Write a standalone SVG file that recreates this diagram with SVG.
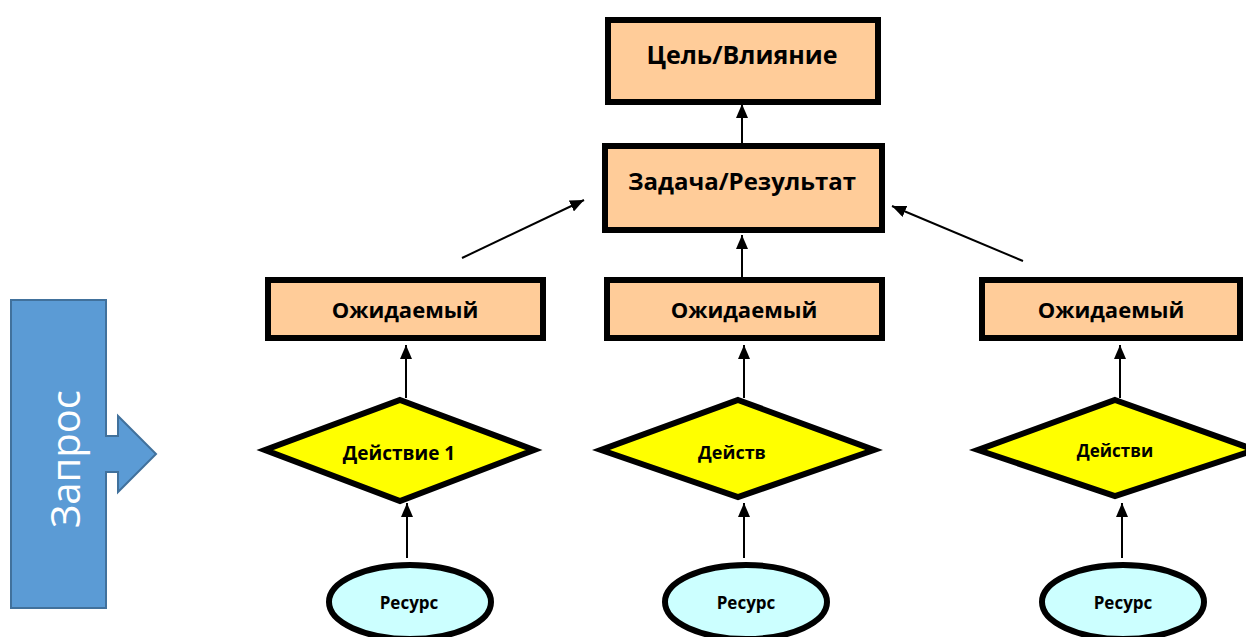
<svg xmlns="http://www.w3.org/2000/svg" width="1246" height="637" viewBox="0 0 1246 637">
<defs>
<style>
.box{fill:#FFCC99;stroke:#000;stroke-width:6}
.dia{fill:#FFFF00;stroke:#000;stroke-width:6}
.res{fill:#CCFFFF;stroke:#000;stroke-width:6}
.t{font-family:"Open Sans","Noto Sans",sans-serif;font-weight:bold;fill:#000;text-anchor:middle;dominant-baseline:central}
.c{stroke:#000;stroke-width:2;fill:none;marker-end:url(#ah)}
</style>
<marker id="ah" viewBox="0 0 14 12" refX="14" refY="6" markerWidth="14" markerHeight="12" markerUnits="userSpaceOnUse" orient="auto">
<path d="M0,0 L14,6 L0,12 Z" fill="#000"/>
</marker>
</defs>
<rect width="1246" height="637" fill="#fff"/>
<g id="zapros">
<path d="M11,300 H106 V436 H118 V416 L156,454 L118,492 V472 H106 V608 H11 Z" fill="#5B9BD5" stroke="#41719C" stroke-width="2"/>
<text x="0" y="0" transform="translate(64,459) rotate(-90)" font-family="'Open Sans','Noto Sans',sans-serif" font-size="40" fill="#fff" text-anchor="middle" dominant-baseline="central">Запрос</text>
</g>
<g id="connectors">
<line class="c" x1="742" y1="143" x2="742" y2="104"/>
<line class="c" x1="742" y1="277" x2="742" y2="235"/>
<line class="c" x1="462" y1="258" x2="584" y2="200"/>
<line class="c" x1="1023" y1="261" x2="892" y2="206"/>
<line class="c" x1="406" y1="398" x2="406" y2="345"/>
<line class="c" x1="744" y1="398" x2="744" y2="345"/>
<line class="c" x1="1120" y1="398" x2="1120" y2="345"/>
<line class="c" x1="407" y1="558" x2="407" y2="503"/>
<line class="c" x1="744" y1="558" x2="744" y2="503"/>
<line class="c" x1="1122" y1="558" x2="1122" y2="503"/>
</g>
<g id="goal">
<rect class="box" x="608" y="20" width="270" height="82"/>
<text class="t" x="742" y="54" font-size="25">Цель/Влияние</text>
</g>
<g id="task">
<rect class="box" x="605" y="146" width="277" height="84"/>
<text class="t" x="742" y="180" font-size="24">Задача/Результат</text>
</g>
<g id="exp1">
<rect class="box" x="268" y="280" width="275" height="58"/>
<text class="t" x="405" y="309" font-size="22">Ожидаемый</text>
</g>
<g id="exp2">
<rect class="box" x="607" y="280" width="275" height="58"/>
<text class="t" x="744" y="309" font-size="22">Ожидаемый</text>
</g>
<g id="exp3">
<rect class="box" x="982" y="280" width="258" height="58"/>
<text class="t" x="1111" y="309" font-size="22">Ожидаемый</text>
</g>
<g id="act1">
<polygon class="dia" points="400,400 534,450 400,501 265,450"/>
<text class="t" x="399" y="453" font-size="19">Действие 1</text>
</g>
<g id="act2">
<polygon class="dia" points="738,400 874,450 738,497 601,450"/>
<text class="t" x="732" y="452" font-size="18">Действ</text>
</g>
<g id="act3">
<polygon class="dia" points="1115,400 1255,450 1115,496 978,450"/>
<text class="t" x="1115" y="450" font-size="17">Действи</text>
</g>
<g id="res1">
<ellipse class="res" cx="410" cy="602" rx="81" ry="37"/>
<text class="t" x="409" y="602" font-size="17">Ресурс</text>
</g>
<g id="res2">
<ellipse class="res" cx="746" cy="602" rx="81" ry="37"/>
<text class="t" x="746" y="602" font-size="17">Ресурс</text>
</g>
<g id="res3">
<ellipse class="res" cx="1123" cy="602" rx="81" ry="37"/>
<text class="t" x="1123" y="602" font-size="17">Ресурс</text>
</g>
</svg>
